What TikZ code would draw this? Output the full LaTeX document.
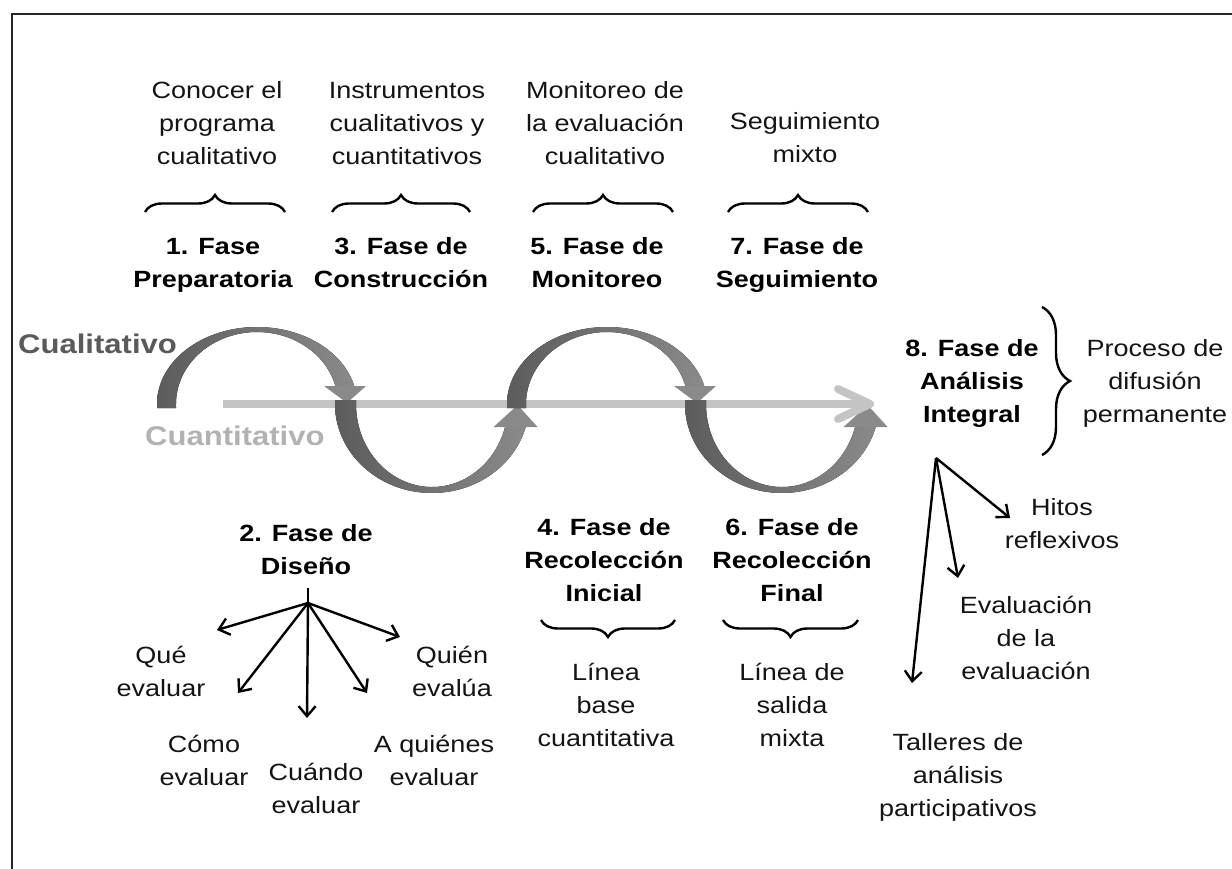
\documentclass[tikz,border=0pt]{standalone}
\usepackage{fontspec}
\setmainfont{Liberation Sans}[FakeStretch=1.15]
\usetikzlibrary{decorations.pathreplacing,arrows.meta}
\definecolor{arcdark}{HTML}{5C5C5C}
\definecolor{arclight}{HTML}{8A8A8A}
\definecolor{linegray}{HTML}{C4C4C4}
\definecolor{qualgray}{HTML}{5A5A5A}
\definecolor{quantgray}{HTML}{B2B2B2}
\definecolor{txtcol}{HTML}{141414}
\newcommand\fl{\rule{0pt}{24pt}}
\begin{document}
\begin{tikzpicture}[x=1pt,y=-1pt,
  txt/.style={anchor=north, align=center, inner sep=0pt, text=txtcol,
    font=\fontsize{23.5pt}{33pt}\selectfont},
  btxt/.style={anchor=north, align=center, inner sep=0pt, text=black,
    font=\fontsize{23.5pt}{33pt}\selectfont\bfseries},
  brc/.style={decorate, decoration={brace, amplitude=17pt}, line width=2.4pt},
  fan/.style={line width=2.4pt, -{Straight Barb[length=10pt,width=17pt]}},
  arcfill/.style={left color=arcdark, right color=arclight},
  headfill/.style={fill=arclight},
  qline/.style={line width=8pt, draw=linegray},
]
\useasboundingbox (0,0) rectangle (1232,869);
% frame
\draw[line width=2.5pt, black!85] (1232,14) -- (12,14) -- (12,869);

% top descriptions
\node[txt] (c1) at (217,74) {\fl Conocer el\\programa\\cualitativo};
\node[txt] (c3) at (407,74) {\fl Instrumentos\\cualitativos y\\cuantitativos};
\node[txt] (c5) at (605,74) {\fl Monitoreo de\\la evaluación\\cualitativo};
\node[txt] (c7) at (805,105) {\fl Seguimiento\\mixto};

% top braces
\draw[brc] (145,212) -- (285,212);
\draw[brc] (332,212) -- (470,212);
\draw[brc] (533,212) -- (673,212);
\draw[brc] (728,212) -- (868,212);

% top phases
\node[btxt] (p1) at (213,230) {\fl 1. Fase\\Preparatoria};
\node[btxt] (p3) at (401,230) {\fl 3. Fase de\\Construcción};
\node[btxt] (p5) at (597,230) {\fl 5. Fase de\\Monitoreo};
\node[btxt] (p7) at (797,230) {\fl 7. Fase de\\Seguimiento};

% labels of the two strands
\node[anchor=base west, inner sep=0pt, text=qualgray,
  font=\fontsize{27pt}{30pt}\selectfont\bfseries] (qual) at (18,353) {Cualitativo};
\node[anchor=base west, inner sep=0pt, text=quantgray,
  font=\fontsize{27pt}{30pt}\selectfont\bfseries] (quant) at (145,445) {Cuantitativo};

% quantitative line
\coordinate (ls) at (223,404);
\coordinate (le) at (866,404);
\draw[qline] (ls) -- (le);

% arc 1 (upper)
\fill[arcfill] (157,408) -- (157,404) arc[start angle=180,end angle=347.25,x radius=100,y radius=77]
  -- (335.7,387) arc[start angle=346.34,end angle=180,x radius=81,y radius=72] -- (176,408) -- cycle;
\fill[headfill] (324,386) -- (366,386) -- (347,403) -- cycle;
% arc 2 (lower)
\fill[arcfill] (335,400) -- (335,404) arc[start angle=180,end angle=14.31,x radius=97,y radius=89]
  -- (505.3,426) arc[start angle=15.37,end angle=180,x radius=76,y radius=83] -- (356,400) -- cycle;
\fill[headfill] (493.6,427) -- (537.6,427) -- (517.6,405) -- cycle;
% arc 3 (upper)
\fill[arcfill] (507,408) -- (507,404) arc[start angle=180,end angle=347.25,x radius=100,y radius=77]
  -- (685.7,387) arc[start angle=346.34,end angle=180,x radius=81,y radius=72] -- (526,408) -- cycle;
\fill[headfill] (674,386) -- (716,386) -- (697,403) -- cycle;
% arc 4 (lower)
\fill[arcfill] (685,400) -- (685,404) arc[start angle=180,end angle=14.31,x radius=97,y radius=89]
  -- (855.3,426) arc[start angle=15.37,end angle=180,x radius=76,y radius=83] -- (706,400) -- cycle;
\fill[headfill] (843.6,427) -- (887.6,427) -- (867.6,405) -- cycle;

% chevron of the quantitative line
\coordinate (ch1) at (838,389);
\coordinate (ch2) at (870,404);
\coordinate (ch3) at (838,419);
\draw[qline, line cap=round, line join=round] (ch1) -- (ch2) -- (ch3);

% phase 8
\node[btxt] (p8) at (972,332) {\fl 8. Fase de\\Análisis\\Integral};
\draw[decorate, decoration={brace, amplitude=28pt}, line width=2.4pt] (1042,307) -- (1042,455);
\node[txt] (dif) at (1155,332) {\fl Proceso de\\difusión\\permanente};

% bottom phases
\node[btxt] (p2) at (306,517) {\fl 2. Fase de\\Diseño};
\node[btxt] (p4) at (604,511) {\fl 4. Fase de\\Recolección\\Inicial};
\node[btxt] (p6) at (792,511) {\fl 6. Fase de\\Recolección\\Final};

% bottom braces
\draw[brc] (675,620) -- (541,620);
\draw[brc] (858,620) -- (723,620);
\node[txt] (lb) at (606,656) {\fl Línea\\base\\cuantitativa};
\node[txt] (ls2) at (792,656) {\fl Línea de\\salida\\mixta};

% design fan
\coordinate (f2s) at (308,588);
\coordinate (f2o) at (308,603);
\coordinate (tque) at (217,630);
\coordinate (tcomo) at (238,693);
\coordinate (tcuando) at (307,718);
\coordinate (taqu) at (367,693);
\coordinate (tquien) at (400,637);
\draw[line width=2.4pt] (f2s) -- (f2o);
\draw[fan] (f2o) -- (tque);
\draw[fan] (f2o) -- (tcomo);
\draw[fan] (f2o) -- (tcuando);
\draw[fan] (f2o) -- (taqu);
\draw[fan] (f2o) -- (tquien);
\node[txt] (que) at (161,639) {\fl Qué\\evaluar};
\node[txt] (como) at (204,728) {\fl Cómo\\evaluar};
\node[txt] (cuando) at (316,756) {\fl Cuándo\\evaluar};
\node[txt] (aquienes) at (434,728) {\fl A quiénes\\evaluar};
\node[txt] (quien) at (452,639) {\fl Quién\\evalúa};

% analysis fan
\coordinate (f8o) at (936,458);
\coordinate (thitos) at (1010,518);
\coordinate (teval) at (958,578);
\coordinate (ttall) at (912,683);
\draw[fan] (f8o) -- (thitos);
\draw[fan] (f8o) -- (teval);
\draw[fan] (f8o) -- (ttall);
\node[txt] (hitos) at (1062,491) {\fl Hitos\\reflexivos};
\node[txt] (eval) at (1026,589) {\fl Evaluación\\de la\\evaluación};
\node[txt] (tall) at (958,726) {\fl Talleres de\\análisis\\participativos};
\end{tikzpicture}
\end{document}
